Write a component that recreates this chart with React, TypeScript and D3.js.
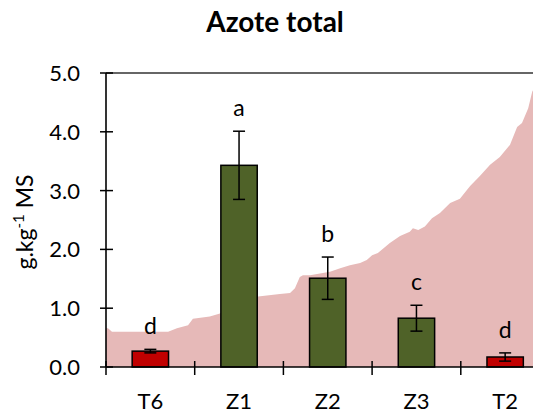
import React from "react";
import * as d3 from "d3";

const categories = ["T6", "Z1", "Z2", "Z3", "T2"];
const means = [0.27, 3.43, 1.51, 0.83, 0.17];
const errors = [0.03, 0.58, 0.36, 0.22, 0.07];
const letters = ["d", "a", "b", "c", "d"];
const barColors = ["#c00000", "#4f6228", "#4f6228", "#4f6228", "#c00000"];
const yTicks = [0, 1, 2, 3, 4, 5];

// background area: position along x axis (% of axis width) and value
const areaPos = [0, 0.45, 1.35, 14.0, 16.0, 18.5, 19.6, 23.4, 25.7, 26.2, 34.0, 34.3, 39.2, 41.5, 42.6, 43.7, 44.4, 46.0, 50.5, 52.8, 55.0, 57.3, 58.8, 60.0, 61.3, 64.0, 66.3, 68.5, 69.2, 70.4, 71.9, 73.5, 75.3, 77.6, 79.8, 82.1, 84.3, 86.6, 88.8, 91.1, 92.7, 93.8, 95.2, 96.1, 97.9, 100];
const areaVal = [0.66, 0.66, 0.6, 0.6, 0.66, 0.71, 0.82, 0.86, 0.91, 0.94, 1.19, 1.2, 1.24, 1.26, 1.34, 1.53, 1.56, 1.56, 1.62, 1.68, 1.73, 1.77, 1.82, 1.9, 1.94, 2.11, 2.23, 2.3, 2.36, 2.33, 2.39, 2.53, 2.62, 2.79, 2.86, 3.08, 3.25, 3.44, 3.57, 3.78, 4.08, 4.15, 4.4, 4.68, 4.95, 5.0];

const W = 533;
const H = 414;
const left = 106;
const right = 549.5;
const top = 73;
const bottom = 367;
const FONT = "Lato, 'Noto Sans', sans-serif";

export default function App() {
  const x = d3.scaleBand<string>().domain(categories).range([left, right]).padding(0);
  const y = d3.scaleLinear().domain([0, 5]).range([bottom, top]);
  const xa = d3.scaleLinear().domain([0, 100]).range([left, right]);
  const areaData = areaPos.map((p, i) => [p, areaVal[i]] as [number, number]);
  const area = d3
    .area<[number, number]>()
    .x((d) => xa(d[0]))
    .y0(y(0))
    .y1((d) => y(d[1]));
  const bw = x.bandwidth() * 0.41;
  const cap = 6;
  const boundaries = d3.range(categories.length + 1).map((i) => left + i * x.step());

  return (
    <svg width={W} height={H} style={{ position: "fixed", left: 0, top: 0, background: "#fff" }} fontFamily={FONT}>
      <text x={275} y={32} textAnchor="middle" fontSize={28} fontWeight="bold" fill="#000">
        Azote total
      </text>
      <path d={area(areaData) || ""} fill="#e6b9b8" />
      <line x1={left} x2={W} y1={top} y2={top} stroke="#333" strokeWidth={1.6} />
      {categories.map((c, i) => {
        const cx = (x(c) as number) + x.bandwidth() / 2;
        const yTop = y(means[i] + errors[i]);
        const yBot = y(means[i] - errors[i]);
        return (
          <g key={c}>
            <rect x={cx - bw / 2} y={y(means[i])} width={bw} height={bottom - y(means[i])} fill={barColors[i]} stroke="#000" strokeWidth={1.5} />
            <line x1={cx} x2={cx} y1={yTop} y2={yBot} stroke="#000" strokeWidth={1.5} />
            <line x1={cx - cap} x2={cx + cap} y1={yTop} y2={yTop} stroke="#000" strokeWidth={1.5} />
            <line x1={cx - cap} x2={cx + cap} y1={yBot} y2={yBot} stroke="#000" strokeWidth={1.5} />
            <text x={cx} y={yTop - 15} textAnchor="middle" fontSize={23} fill="#000">
              {letters[i]}
            </text>
            <text x={cx} y={409} textAnchor="middle" fontSize={22} fill="#000">
              {c}
            </text>
          </g>
        );
      })}
      <line x1={left} x2={right} y1={bottom} y2={bottom} stroke="#000" strokeWidth={1.6} />
      {boundaries.map((bx, i) => (
        <line key={i} x1={bx} x2={bx} y1={bottom - 6} y2={bottom + 8} stroke="#000" strokeWidth={1.5} />
      ))}
      <line x1={left} x2={left} y1={top} y2={bottom} stroke="#000" strokeWidth={1.6} />
      {yTicks.map((t) => (
        <g key={t}>
          <line x1={left - 6} x2={left + 7} y1={y(t)} y2={y(t)} stroke="#000" strokeWidth={1.5} />
          <text x={80} y={y(t)} dy="0.36em" textAnchor="end" fontSize={22} fill="#000">
            {t.toFixed(1)}
          </text>
        </g>
      ))}
      <text transform={`translate(33,222) rotate(-90)`} textAnchor="middle" fontSize={23} fill="#000">
        g.kg<tspan dy={-9} fontSize={15}>-1</tspan>
        <tspan dy={9}> MS</tspan>
      </text>
    </svg>
  );
}
